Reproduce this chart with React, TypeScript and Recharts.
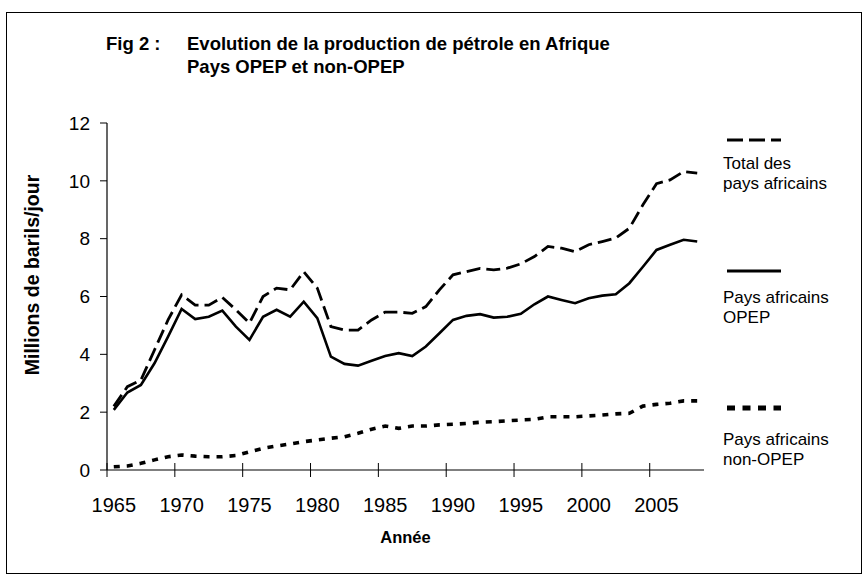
import React from 'react';
import { LineChart, Line, XAxis, YAxis } from 'recharts';

// Années (catégories)
const years = [
  1965, 1966, 1967, 1968, 1969, 1970, 1971, 1972, 1973, 1974, 1975,
  1976, 1977, 1978, 1979, 1980, 1981, 1982, 1983, 1984, 1985, 1986,
  1987, 1988, 1989, 1990, 1991, 1992, 1993, 1994, 1995, 1996, 1997,
  1998, 1999, 2000, 2001, 2002, 2003, 2004, 2005, 2006, 2007, 2008,
];

// Millions de barils/jour
const totalAfrique = [
  2.2, 2.88, 3.11, 4.15, 5.19, 6.06, 5.7, 5.7, 5.97, 5.54, 5.08,
  6.0, 6.29, 6.23, 6.86, 6.29, 4.96, 4.84, 4.84, 5.19, 5.46, 5.46,
  5.42, 5.65, 6.23, 6.75, 6.86, 6.97, 6.92, 6.98, 7.13, 7.38, 7.73,
  7.67, 7.55, 7.79, 7.9, 8.02, 8.36, 9.17, 9.9, 10.03, 10.32, 10.27,
];
const opep = [
  2.08, 2.68, 2.94, 3.69, 4.61, 5.57, 5.22, 5.3, 5.51, 4.96, 4.5,
  5.3, 5.54, 5.3, 5.82, 5.25, 3.92, 3.67, 3.61, 3.78, 3.94, 4.04,
  3.94, 4.27, 4.73, 5.19, 5.33, 5.39, 5.27, 5.3, 5.4, 5.73, 6.0,
  5.88, 5.77, 5.94, 6.03, 6.08, 6.46, 7.03, 7.61, 7.79, 7.96, 7.9,
];
const nonOpep = [
  0.11, 0.14, 0.23, 0.35, 0.46, 0.52, 0.48, 0.46, 0.46, 0.5, 0.63,
  0.75, 0.83, 0.9, 0.98, 1.04, 1.1, 1.15, 1.27, 1.41, 1.52, 1.44,
  1.52, 1.52, 1.56, 1.58, 1.61, 1.65, 1.67, 1.7, 1.73, 1.75, 1.84,
  1.84, 1.84, 1.87, 1.9, 1.94, 1.96, 2.21, 2.27, 2.31, 2.39, 2.39,
];

const yTicks = [0, 2, 4, 6, 8, 10, 12];
// tick marks sit on category boundaries, every 5 years
const xBoundaries = [1964.5, 1969.5, 1974.5, 1979.5, 1984.5, 1989.5, 1994.5, 1999.5, 2004.5];

const data = years.map((year, i) => ({
  year,
  total: totalAfrique[i],
  opep: opep[i],
  nonOpep: nonOpep[i],
}));

const FONT = '"Liberation Sans", Arial, sans-serif';
const W = 864;
const H = 580;
const PLOT_LEFT = 107;
const PLOT_RIGHT = 704;
const PLOT_TOP = 123;
const PLOT_BOTTOM = 470;
const halfCat = (PLOT_RIGHT - PLOT_LEFT) / years.length / 2;

const XTick = (props: any) => {
  const { x, y, payload } = props;
  return (
    <g>
      <line x1={x} x2={x} y1={y - 7} y2={y + 7} stroke="#000" strokeWidth={1} />
      <text
        x={x + halfCat}
        y={y + 42}
        textAnchor="middle"
        fontSize={20}
        fontFamily={FONT}
        fill="#000"
      >
        {Math.round(payload.value + 0.5)}
      </text>
    </g>
  );
};

const YTitle = () => (
  <text
    transform="translate(39,275) rotate(-90)"
    textAnchor="middle"
    fontFamily={FONT}
    fontWeight="bold"
    fontSize={19.5}
    fill="#000"
  >
    Millions de barils/jour
  </text>
);

const XTitle = () => (
  <text
    x={(PLOT_LEFT + PLOT_RIGHT) / 2}
    y={543}
    textAnchor="middle"
    fontFamily={FONT}
    fontWeight="bold"
    fontSize={16.5}
    fill="#000"
  >
    Année
  </text>
);

const legendItems = [
  { lineY: 140, dash: '16 6', width: 3, textY: [169, 189], lines: ['Total des', 'pays africains'] },
  { lineY: 271, dash: undefined, width: 3, textY: [303, 323], lines: ['Pays africains', 'OPEP'] },
  { lineY: 408, dash: '8 7.5', width: 5, textY: [445, 465], lines: ['Pays africains', 'non-OPEP'] },
];

const Legend = () => (
  <svg width={W} height={H} style={{ position: 'absolute', left: 0, top: 0, pointerEvents: 'none' }}>
    {legendItems.map((it) => (
      <g key={it.lines[1]}>
        <line x1={727} x2={781} y1={it.lineY} y2={it.lineY} stroke="#000" strokeWidth={it.width} strokeDasharray={it.dash} />
        {it.lines.map((l, k) => (
          <text key={l} x={723} y={it.textY[k]} fontSize={17} fontFamily={FONT} fill="#000">
            {l}
          </text>
        ))}
      </g>
    ))}
  </svg>
);

export default function App() {
  return (
    <div style={{ position: 'absolute', left: 0, top: 0, width: W, height: H, background: '#fff' }}>
      {/* cadre extérieur */}
      <div
        style={{
          position: 'absolute',
          left: 6,
          top: 12,
          width: 856,
          height: 562,
          border: '1px solid #000',
          boxSizing: 'border-box',
        }}
      />
      <div
        style={{
          position: 'absolute',
          left: 106,
          top: 32,
          fontFamily: FONT,
          fontWeight: 'bold',
          fontSize: 18.5,
          lineHeight: '23px',
          display: 'flex',
        }}
      >
        <div style={{ width: 81 }}>Fig 2 :</div>
        <div>
          <div>Evolution de la production de pétrole en Afrique</div>
          <div>Pays OPEP et non-OPEP</div>
        </div>
      </div>

      <LineChart
        width={W}
        height={H}
        data={data}
        margin={{ top: PLOT_TOP, right: W - PLOT_RIGHT, bottom: 0, left: 0 }}
        style={{ position: 'absolute', left: 0, top: 0 }}
      >
        <XAxis
          dataKey="year"
          type="number"
          domain={[1964.5, 2008.5]}
          ticks={xBoundaries}
          interval={0}
          height={H - PLOT_BOTTOM}
          tickLine={false}
          tickSize={0}
          tickMargin={0}
          axisLine={{ stroke: '#000', strokeWidth: 1.2 }}
          tick={<XTick />}
          label={{ content: () => <XTitle /> }}
        />
        <XAxis xAxisId="top" orientation="top" dataKey="year" type="number" domain={[1964.5, 2008.5]} height={0} tick={false} tickLine={false} axisLine={{ stroke: '#000', strokeWidth: 1 }} />
        <YAxis
          domain={[0, 12]}
          ticks={yTicks}
          interval={0}
          width={PLOT_LEFT}
          tickSize={7}
          tickMargin={10}
          tickLine={{ stroke: '#000' }}
          axisLine={{ stroke: '#000', strokeWidth: 1.2 }}
          tick={{ fill: '#000', fontSize: 19, fontFamily: FONT }}
          label={{ content: () => <YTitle /> }}
        />
        <YAxis yAxisId="right" orientation="right" domain={[0, 12]} width={0} tick={false} tickLine={false} axisLine={{ stroke: '#000', strokeWidth: 1 }} />
        <Line
          dataKey="total"
          stroke="#000"
          strokeWidth={2.8}
          strokeDasharray="14 6"
          dot={false}
          isAnimationActive={false}
        />
        <Line
          dataKey="opep"
          stroke="#000"
          strokeWidth={2.6}
          dot={false}
          isAnimationActive={false}
        />
        <Line
          dataKey="nonOpep"
          stroke="#000"
          strokeWidth={3.6}
          strokeDasharray="6 7"
          dot={false}
          isAnimationActive={false}
        />
      </LineChart>

      <Legend />
    </div>
  );
}
